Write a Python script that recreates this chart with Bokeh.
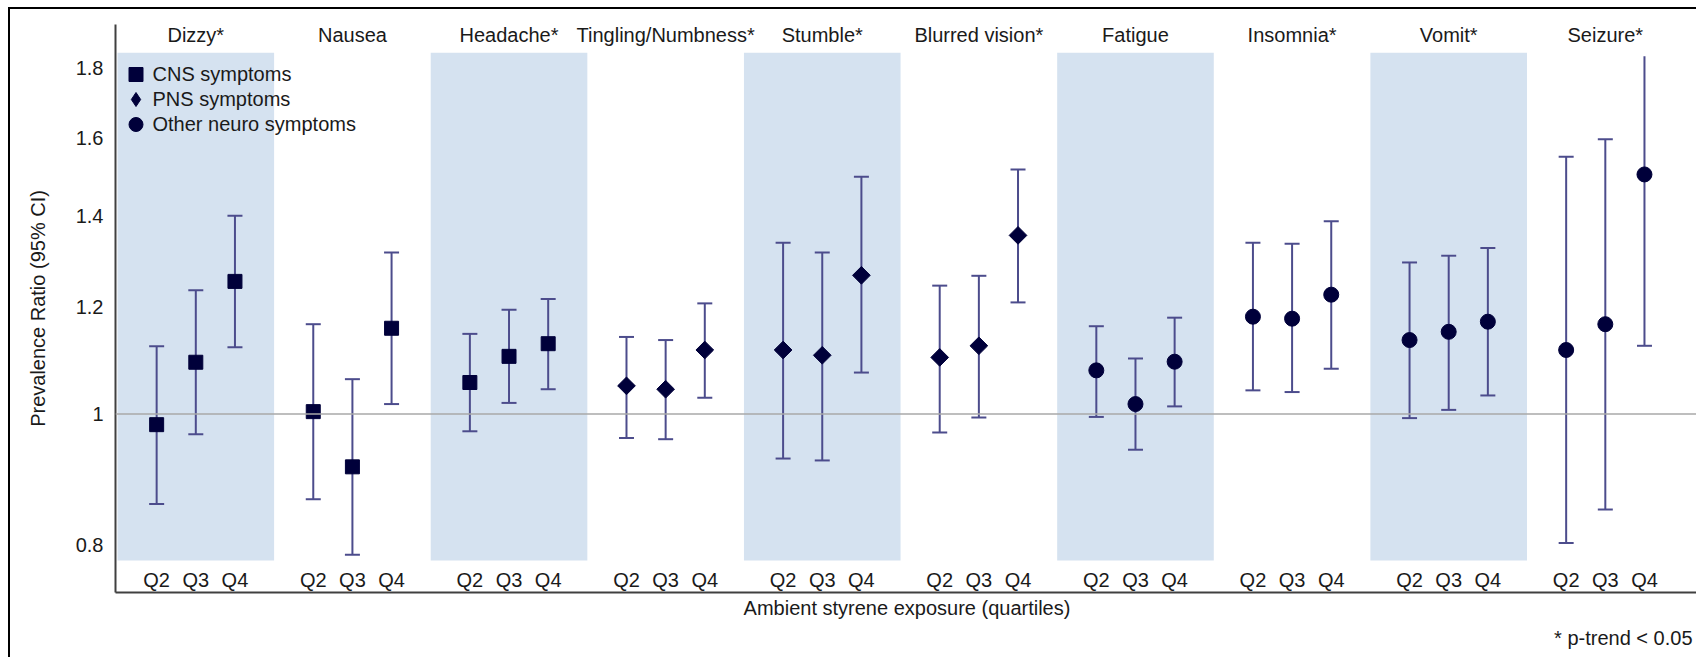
import math
from bokeh.plotting import figure
from bokeh.models import ColumnDataSource, FixedTicker, Legend, LegendItem, Span, Title
from bokeh.core.properties import value
from bokeh.embed import file_html
from bokeh.resources import INLINE

# ---------------- data ----------------
SYMPTOMS = ["Dizzy*", "Nausea", "Headache*", "Tingling/Numbness*", "Stumble*",
            "Blurred vision*", "Fatigue", "Insomnia*", "Vomit*", "Seizure*"]
GROUP = ["CNS", "CNS", "CNS", "PNS", "PNS", "PNS", "Other", "Other", "Other", "Other"]
QUARTILES = ["Q2", "Q3", "Q4"]

PR_Q2 = [0.982, 1.004, 1.055, 1.049, 1.115, 1.101, 1.077, 1.180, 1.134, 1.115]
PR_Q3 = [1.092, 0.914, 1.103, 1.043, 1.105, 1.123, 1.017, 1.176, 1.150, 1.165]
PR_Q4 = [1.253, 1.157, 1.127, 1.115, 1.266, 1.355, 1.093, 1.225, 1.170, 1.503]

LO_Q2 = [0.858, 0.865, 0.971, 0.960, 0.927, 0.969, 0.995, 1.041, 0.993, 0.803]
LO_Q3 = [0.966, 0.787, 1.019, 0.958, 0.924, 0.994, 0.941, 1.038, 1.007, 0.850]
LO_Q4 = [1.120, 1.017, 1.043, 1.028, 1.073, 1.209, 1.013, 1.080, 1.032, 1.123]

HI_Q2 = [1.122, 1.165, 1.146, 1.140, 1.338, 1.244, 1.161, 1.338, 1.294, 1.549]
HI_Q3 = [1.234, 1.061, 1.194, 1.134, 1.316, 1.265, 1.099, 1.336, 1.309, 1.596]
HI_Q4 = [1.401, 1.316, 1.216, 1.207, 1.497, 1.516, 1.178, 1.388, 1.326, 1.838]  # Seizure Q4 runs off the axis

Y_TICKS = [0.8, 1, 1.2, 1.4, 1.6, 1.8]
Y_TICK_LABELS = ["0.8", "1", "1.2", "1.4", "1.6", "1.8"]

LEGEND_LABELS = {"CNS": "CNS symptoms", "PNS": "PNS symptoms", "Other": "Other neuro symptoms"}
FOOTNOTE = "* p-trend < 0.05"

# ---------------- layout constants ----------------
FONT = "Liberation Sans"
FS = "20px"
MARK = "#00003a"
BAR = "#4c4c8c"
BAND = "#d5e2f0"
TXT = "#1a1a1a"
AXIS_TOP = 1.838      # data clip level of the original axis
BAND_TOP, BAND_BOTTOM = 1.849, 0.7794
HEADER_Y = 1.904
QLABEL_Y = 0.7546

p = figure(width=1688, height=650, output_backend="svg", toolbar_location=None,
           x_range=(-0.051, 40.38), y_range=(0.7381, 1.9397), y_axis_type="log",
           min_border_left=105, min_border_right=0, min_border_top=15, min_border_bottom=67,
           background_fill_color="white", border_fill_color="white")
p.margin = (7, 0, 0, 8)
p.styles = {"border-left": "2px solid #000000", "border-top": "2px solid #000000"}
p.outline_line_color = None
p.grid.visible = False

# alternating shaded bands
band_left = [4 * i for i in range(len(SYMPTOMS)) if i % 2 == 0]
band_right = [4 * i + 4 for i in range(len(SYMPTOMS)) if i % 2 == 0]
p.quad(left=band_left, right=band_right, bottom=BAND_BOTTOM, top=BAND_TOP,
       fill_color=BAND, line_color=None)

p.add_layout(Span(location=1, dimension="width", line_color="#a8a8a8", line_width=1.5))

# build point tables
data = {g: dict(x=[], pr=[], lo=[], hi=[]) for g in ("CNS", "PNS", "Other")}
all_x, all_q, cap_x, cap_y = [], [], [], []
for i, g in enumerate(GROUP):
    prs = [PR_Q2[i], PR_Q3[i], PR_Q4[i]]
    los = [LO_Q2[i], LO_Q3[i], LO_Q4[i]]
    his = [HI_Q2[i], HI_Q3[i], HI_Q4[i]]
    for j in range(3):
        x = 4 * i + 1 + j
        d = data[g]
        d["x"].append(x); d["pr"].append(prs[j]); d["lo"].append(los[j]); d["hi"].append(his[j])
        all_x.append(x); all_q.append(QUARTILES[j])
        cap_x.append(x); cap_y.append(los[j])
        if his[j] < AXIS_TOP - 1e-9:
            cap_x.append(x); cap_y.append(his[j])

for g, d in data.items():
    p.segment(x0=d["x"], y0=d["lo"], x1=d["x"], y1=d["hi"], line_color=BAR, line_width=2)
p.scatter(x=cap_x, y=cap_y, marker="dash", size=15, line_color=BAR, line_width=2)

src = {g: ColumnDataSource(d) for g, d in data.items()}
r_cns = p.scatter("x", "pr", source=src["CNS"], marker="square", size=14,
                  fill_color=MARK, line_color=MARK)
p.scatter("x", "pr", source=src["PNS"], marker="square", size=12.5, angle=math.pi / 4,
          fill_color=MARK, line_color=MARK)
r_oth = p.scatter("x", "pr", source=src["Other"], marker="circle", size=15,
                  fill_color=MARK, line_color=MARK)
# zero-size twin of the PNS markers, only used to draw a diamond in the legend
r_pns_leg = p.scatter("x", "pr", source=src["PNS"], marker="diamond", size=0,
                      fill_color=MARK, line_color=MARK)

# headers and quartile labels
p.text(x=[4 * i + 2 for i in range(len(SYMPTOMS))], y=HEADER_Y, text=SYMPTOMS,
       text_font=value(FONT), text_font_size=FS, text_align="center",
       text_baseline="middle", text_color=TXT)
p.text(x=all_x, y=QLABEL_Y, text=all_q, text_font=value(FONT), text_font_size=FS,
       text_align="center", text_baseline="middle", text_color=TXT)

# one single-item legend per row (rows 25px apart, large glyphs)
for k, (key, rend, gw) in enumerate([("CNS", r_cns, 35), ("PNS", r_pns_leg, 35), ("Other", r_oth, 35)]):
    lg = Legend(items=[LegendItem(label=LEGEND_LABELS[key], renderers=[rend])],
                location=(2.5, 498 - 25 * k), glyph_width=gw, glyph_height=40,
                label_height=40, padding=0, margin=0, label_standoff=0,
                label_text_font=FONT, label_text_font_size=FS, label_text_color=TXT,
                border_line_color=None, background_fill_alpha=0)
    p.add_layout(lg)

# axes
for ax in (p.xaxis[0], p.yaxis[0]):
    ax.axis_line_color = "#404040"
    ax.axis_line_width = 2
    ax.major_tick_line_color = None
    ax.minor_tick_line_color = None
    ax.axis_label_text_font = FONT
    ax.axis_label_text_font_size = FS
    ax.axis_label_text_font_style = "normal"
    ax.axis_label_text_color = TXT
    ax.major_label_text_font = FONT
    ax.major_label_text_font_size = FS
    ax.major_label_text_color = TXT

p.yaxis.ticker = FixedTicker(ticks=Y_TICKS, minor_ticks=[])
p.yaxis.major_label_overrides = dict(zip(Y_TICKS, Y_TICK_LABELS))
p.yaxis.major_label_standoff = 6
p.yaxis.axis_label = "Prevalence Ratio (95% CI)"
p.yaxis.axis_label_standoff = 24

p.xaxis.ticker = FixedTicker(ticks=[], minor_ticks=[])
p.xaxis.major_label_standoff = 0
p.xaxis.axis_label = "Ambient styrene exposure (quartiles)"
p.xaxis.axis_label_standoff = 4

p.add_layout(Title(text=FOOTNOTE, align="right", offset=6, text_font=FONT, text_font_size=FS,
                   text_font_style="normal", text_color=TXT, standoff=6), "below")

open("out.html", "w").write(file_html(p, INLINE))
